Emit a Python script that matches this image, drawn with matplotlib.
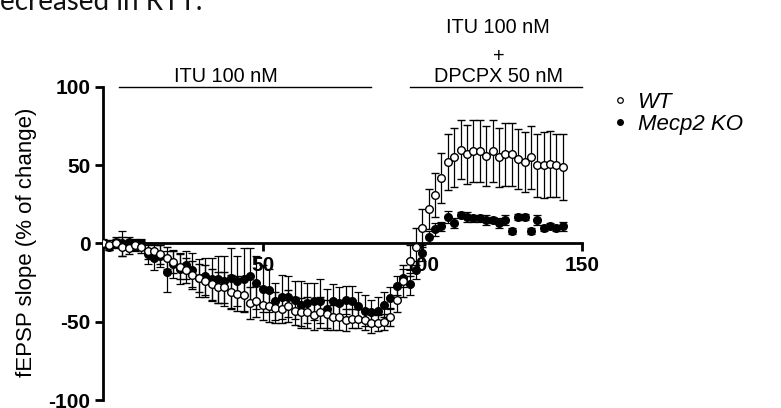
import matplotlib
matplotlib.use("Agg")
import matplotlib.pyplot as plt
from matplotlib.lines import Line2D

plt.rcParams["axes.unicode_minus"] = False

# ---------------- data ----------------
time_min = list(range(0, 146, 2))

wt_mean = [0, -1, 0, -2, -3, -1, -2, -5, -5, -7,
           -9, -12, -15, -17, -20, -22, -24, -26, -28, -28,
           -31, -32, -33, -38, -37, -39, -40, -41, -42, -40,
           -43, -44, -44, -46, -44, -45, -47, -47, -49, -48,
           -48, -49, -51, -51, -50, -47, -36, -24, -11, -2,
           10, 22, 31, 42, 52, 55, 60, 57, 59, 59,
           56, 59, 55, 57, 57, 54, 52, 55, 50, 50,
           51, 50, 49]
wt_sem = [2, 3, 3, 6, 4, 3, 4, 5, 5, 6,
          7, 7, 8, 8, 9, 9, 10, 10, 10, 10,
          11, 11, 11, 10, 10, 10, 10, 10, 9, 10,
          9, 9, 10, 9, 10, 9, 8, 8, 7, 6,
          6, 6, 6, 5, 5, 6, 8, 10, 10, 12,
          12, 13, 14, 16, 18, 19, 19, 19, 20, 20,
          19, 20, 19, 20, 20, 19, 19, 20, 20, 21,
          21, 20, 21]

ko_mean = [0, -2, 1, 0, 1, -1, 0, -7, -9, -8,
           -18, -13, -16, -14, -17, -22, -21, -23, -23, -24,
           -22, -24, -23, -21, -25, -29, -30, -37, -34, -34,
           -36, -39, -38, -37, -37, -42, -37, -38, -36, -37,
           -40, -43, -44, -43, -39, -35, -27, -22, -26, -17,
           -6, 4, 9, 11, 17, 13, 18, 17, 16, 16,
           15, 15, 13, 15, 8, 17, 17, 8, 15, 10,
           11, 10, 11]
ko_sem = [3, 2, 3, 8, 3, 4, 3, 6, 8, 7,
          13, 9, 10, 9, 11, 12, 12, 14, 15, 16,
          19, 16, 20, 18, 17, 15, 14, 12, 14, 13,
          12, 15, 13, 12, 14, 13, 11, 10, 9, 10,
          9, 10, 8, 9, 8, 7, 6, 6, 7, 6,
          5, 4, 4, 3, 4, 3, 2, 3, 2, 2,
          3, 2, 3, 3, 2, 2, 2, 2, 3, 2,
          2, 2, 3]

x_ticks = [50, 100, 150]
y_ticks = [-100, -50, 0, 50, 100]
bar1_range = [5, 84]
bar2_range = [96, 150]
series_labels = ["WT", "Mecp2 KO"]

# ---------------- figure ----------------
W, H = 781, 408
fig = plt.figure(figsize=(W / 100, H / 100), dpi=100)
ax = fig.add_axes([103 / W, 8 / H, 479 / W, 313 / H])

fig.text(0.0, 1 - 10 / H, "ecreased in RTT.", family=["Lato", "DejaVu Sans"],
         fontsize=20, va="baseline", ha="left", color="#111111")

ekw = dict(ecolor="black", elinewidth=0.9, capsize=3.2, capthick=0.9, linestyle="none")
ax.errorbar(time_min, ko_mean, yerr=ko_sem, marker="o", markersize=5.5,
            markerfacecolor="black", markeredgecolor="black", zorder=3, **ekw)
ax.errorbar(time_min, wt_mean, yerr=wt_sem, marker="o", markersize=5.5,
            markerfacecolor="white", markeredgecolor="black", markeredgewidth=1.0,
            zorder=4, **ekw)

ax.set_xlim(0, 150)
ax.set_ylim(-100, 100)
for s in ["top", "right"]:
    ax.spines[s].set_visible(False)
ax.spines["bottom"].set_position(("data", 0))
ax.spines["bottom"].set_bounds(0, 150)
ax.spines["left"].set_bounds(-100, 100)
ax.spines["bottom"].set_linewidth(2.0)
ax.spines["left"].set_linewidth(2.0)
ax.spines["bottom"].set_zorder(2)

ax.set_xticks(x_ticks)
ax.set_yticks(y_ticks)
ax.tick_params(axis="both", direction="out", length=6, width=2,
               labelsize=15, pad=3)
for lab in ax.get_xticklabels() + ax.get_yticklabels():
    lab.set_fontweight("bold")
    lab.set_family("Liberation Sans")

fig.text(27 / W, 1 - 242 / H, "fEPSP slope (% of change)", rotation=90,
         ha="center", va="center", fontsize=16, family="Liberation Sans")

# treatment bars
tkw = dict(ha="center", fontsize=14.3, family="Liberation Sans", clip_on=False)
ax.plot(bar1_range, [100, 100], color="black", lw=1.0, clip_on=False)
ax.plot(bar2_range, [100, 100], color="black", lw=1.0, clip_on=False)
ax.text(38.6, 102.9, "ITU 100 nM", va="baseline", **tkw)
ax.text(123.8, 102.9, "DPCPX 50 nM", va="baseline", **tkw)
ax.text(123.8, 119.5, "+", va="center", **tkw)
ax.text(123.8, 134.2, "ITU 100 nM", va="baseline", **tkw)

handles = [Line2D([], [], linestyle="none", marker="o", markersize=4,
                  markerfacecolor="white", markeredgecolor="black", markeredgewidth=0.9),
           Line2D([], [], linestyle="none", marker="o", markersize=4,
                  markerfacecolor="black", markeredgecolor="black")]
leg = fig.legend(handles, series_labels, loc="upper left",
                 bbox_to_anchor=(613.5 / W, 1 - 92 / H), frameon=False,
                 prop=dict(family="Liberation Sans", style="italic", size=16),
                 handlelength=0.6, handletextpad=0.48, labelspacing=0.05,
                 borderaxespad=0, borderpad=0)

fig.savefig("out.png", dpi=100)
